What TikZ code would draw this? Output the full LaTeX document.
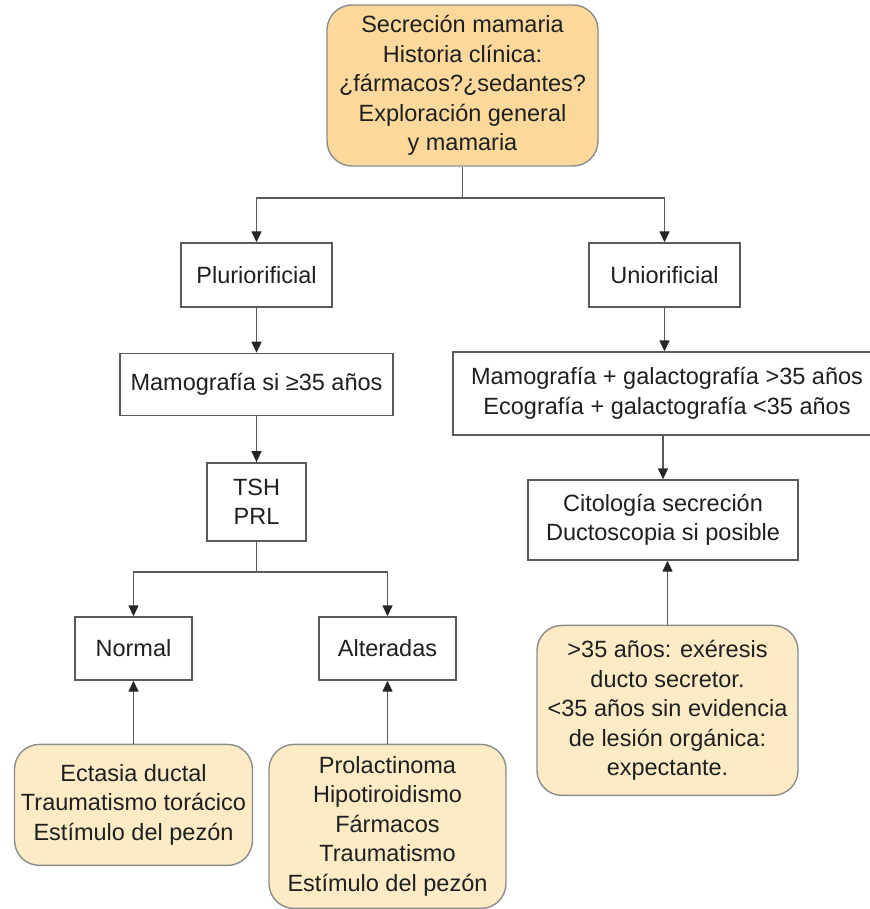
\documentclass[tikz,border=0pt]{standalone}
\usepackage{fontspec}
\setmainfont{Liberation Sans}
\usetikzlibrary{arrows.meta,positioning}
\definecolor{ornfill}{HTML}{FCD99B}
\definecolor{ornlight}{HTML}{FDEBC6}
\definecolor{lncol}{HTML}{5A5A5A}
\tikzset{
  block/.style   = {draw=lncol, line width=1.4pt, rectangle, align=center,
                    inner sep=2pt, text=black!88},
  noteblk/.style = {block, draw=black!45, rounded corners=25pt, fill=ornlight},
  sig/.style     = {-{Triangle[length=11pt,width=10pt,color=black!85]},
                    line width=1.4pt, draw=lncol},
  wire/.style    = {line width=1.4pt, draw=lncol},
}

\begin{document}
\begin{tikzpicture}[x=1pt, y=-1pt, node distance=45pt,
   font=\fontsize{23.5}{29.5}\selectfont]
\useasboundingbox (0,0) rectangle (869,909);
\fill[white] (0,0) rectangle (869,909);
\node[noteblk, fill=ornfill, minimum width=271pt, minimum height=161pt] (sec)
  at (462.5,85.5)
  {Secreción mamaria\\Historia clínica:\\¿fármacos?¿sedantes?\\
   Exploración general\\y mamaria};
% left branch
\node[block, minimum width=151pt, minimum height=64pt] (plu) at (256.5,275)
  {Pluriorificial};
\node[block, below=of plu, minimum width=273pt, minimum height=62pt] (mam)
  {Mamografía si ≥35 años};
\node[block, below=46pt of mam, minimum width=99pt, minimum height=78pt] (tsh)
  {TSH\\PRL};
\node[block, minimum width=117pt, minimum height=63pt] (nor) at (133.5,648.5)
  {Normal};
\node[block, minimum width=137pt, minimum height=63pt] (alt) at (387.5,648.5)
  {Alteradas};
\node[noteblk, below=63pt of nor, minimum width=238pt, minimum height=121pt] (ect)
  {Ectasia ductal\\Traumatismo torácico\\Estímulo del pezón};
\node[noteblk, below=63pt of alt, minimum width=237pt, minimum height=164pt] (pro)
  {Prolactinoma\\Hipotiroidismo\\Fármacos\\Traumatismo\\Estímulo del pezón};
% right branch
\node[block, minimum width=151pt, minimum height=64pt] (uni) at (664.5,275)
  {Uniorificial};
\node[block, minimum width=428pt, minimum height=83pt] (gal) at (667,393.5)
  {Mamografía + galactografía >35 años\\Ecografía + galactografía <35 años};
\node[block, minimum width=270pt, minimum height=80pt] (cit) at (663,520)
  {Citología secreción\\Ductoscopia si posible};
\node[noteblk, below=64pt of cit, minimum width=261pt, minimum height=170pt,
  xshift=4.5pt] (exp)
  {>35 años: exéresis\\ducto secretor.\\<35 años sin evidencia\\
   de lesión orgánica:\\expectante.};
\coordinate (sj) at (462.5,198);
\coordinate (tj) at (256.5,572);
\draw[wire] (sec) -- (sj);
\draw[sig] (sj) -| (plu);
\draw[sig] (sj) -| (uni);
\draw[sig] (plu) -- (mam);
\draw[sig] (mam) -- (tsh);
\draw[wire] (tsh) -- (tj);
\draw[sig] (tj) -| (nor);
\draw[sig] (tj) -| (alt);
\draw[sig] (ect) -- (ect |- nor.south);
\draw[sig] (alt |- pro.north) -- (alt);
\draw[sig] (uni) -- (uni |- gal.north);
\draw[sig] (cit |- gal.south) -- (cit);
\draw[sig] (exp) -- (exp |- cit.south);
\end{tikzpicture}
\end{document}
